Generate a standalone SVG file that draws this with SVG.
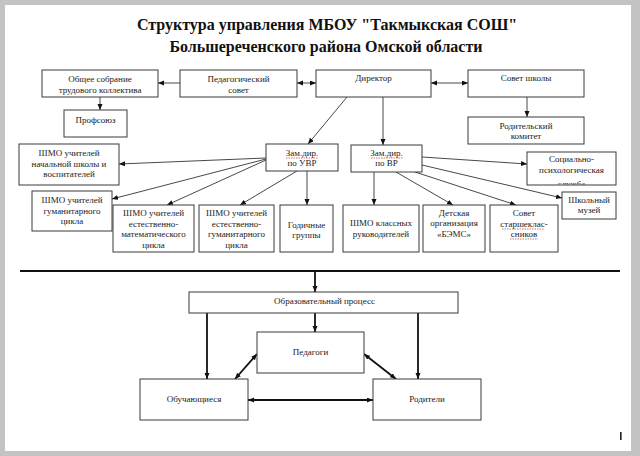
<svg xmlns="http://www.w3.org/2000/svg" width="640" height="456" viewBox="0 0 640 456">
<style>
.box{fill:#fff;stroke:#3a3a3a;stroke-width:1}
.t{font-family:"Liberation Serif","Times New Roman",serif;font-size:9px;fill:#222;text-anchor:middle}
.title{font-family:"Liberation Serif","Times New Roman",serif;font-size:16px;font-weight:bold;fill:#111;text-anchor:middle}
.c{stroke:#333;stroke-width:0.9;fill:none;marker-end:url(#ah)}
.d{marker-start:url(#ah)}
.b{stroke:#111;stroke-width:1.8;fill:none;marker-end:url(#ah)}
.sq{stroke:#c0392b;stroke-width:0.7;fill:none;stroke-dasharray:1.5 1}
</style>
<defs>
<marker id="ah" markerUnits="userSpaceOnUse" markerWidth="7" markerHeight="6" refX="6" refY="2.5" orient="auto-start-reverse" viewBox="0 0 7 6">
<path d="M0,0 L6,2.5 L0,5 z" fill="#111"/>
</marker>
<clipPath id="cp-soc"><rect x="527" y="152" width="89" height="32.5"/></clipPath>
</defs>
<rect x="0" y="0" width="640" height="456" fill="#c4c4c4"/>
<rect x="5" y="5" width="626" height="446" fill="#fff"/>
<g id="title">
<text class="title" x="327" y="30">Структура управления МБОУ "Такмыкская СОШ"</text>
<text class="title" x="326" y="52">Большереченского района Омской области</text>
</g>
<g id="connectors">
<line class="c" x1="180" y1="83" x2="158" y2="83"/>
<line class="c d" x1="297" y1="83" x2="316" y2="83"/>
<line class="c d" x1="431" y1="83" x2="468" y2="83"/>
<line class="c" x1="100" y1="97" x2="100" y2="110"/>
<line class="c" x1="527" y1="97" x2="527" y2="117"/>
<line class="c" x1="347" y1="97" x2="308" y2="144"/>
<line class="c" x1="383" y1="97" x2="383" y2="145"/>
<line class="c" x1="266" y1="158" x2="119" y2="164"/>
<line class="c" x1="266" y1="159" x2="112" y2="199"/>
<line class="c" x1="266" y1="160" x2="167" y2="205"/>
<line class="c" x1="297" y1="171" x2="240" y2="205"/>
<line class="c" x1="307" y1="171" x2="307" y2="205"/>
<line class="c" x1="374" y1="172" x2="374" y2="205"/>
<line class="c" x1="396" y1="172" x2="453" y2="205"/>
<line class="c" x1="415" y1="172" x2="516" y2="205"/>
<line class="c" x1="422" y1="165" x2="562" y2="198"/>
<line class="c" x1="422" y1="157" x2="527" y2="164"/>
<line x1="20" y1="271" x2="620" y2="271" stroke="#111" stroke-width="2"/>
<line class="b" x1="315" y1="272" x2="315" y2="292"/>
<line class="b" x1="207" y1="313" x2="207" y2="379"/>
<line class="b" x1="315" y1="313" x2="315" y2="332"/>
<line class="b" x1="418" y1="313" x2="418" y2="379"/>
<line class="b d" x1="257" y1="354" x2="235" y2="379"/>
<line class="b d" x1="364" y1="354" x2="396" y2="379"/>
<line class="b d" x1="248" y1="400" x2="373" y2="400"/>
</g>
<g id="obshchee"><rect class="box" x="42" y="70" width="116" height="27"/><text class="t" x="100" y="82">Общее собрание</text><text class="t" x="100" y="93">трудового коллектива</text></g>
<g id="pedsovet"><rect class="box" x="180" y="70" width="117" height="27"/><text class="t" x="238.5" y="82">Педагогический</text><text class="t" x="238.5" y="93">совет</text></g>
<g id="direktor"><rect class="box" x="316" y="70" width="115" height="27"/><text class="t" x="373.5" y="81">Директор</text></g>
<g id="sovet"><rect class="box" x="468" y="70" width="116" height="27"/><text class="t" x="526" y="81">Совет школы</text></g>
<g id="profsoyuz"><rect class="box" x="64" y="110" width="63" height="27"/><text class="t" x="95.5" y="123">Профсоюз</text></g>
<g id="rodkom"><rect class="box" x="468" y="117" width="116" height="27"/><text class="t" x="526" y="129">Родительский</text><text class="t" x="526" y="139">комитет</text></g>
<g id="zam-uvr"><rect class="box" x="266" y="144" width="72" height="27"/><text class="t" x="302" y="156">Зам.дир.</text><path class="sq" d="M286,158 L318,158"/><text class="t" x="302" y="166">по УВР</text></g>
<g id="zam-vr"><rect class="box" x="351" y="145" width="71" height="27"/><text class="t" x="386.5" y="156">Зам.дир.</text><path class="sq" d="M371,158 L403,158"/><text class="t" x="386.5" y="166">по ВР</text></g>
<g id="shmo-nach"><rect class="box" x="19" y="144" width="100" height="41"/><text class="t" x="69" y="156">ШМО учителей</text><text class="t" x="69" y="167">начальной школы и</text><text class="t" x="69" y="177">воспитателей</text></g>
<g id="shmo-gum"><rect class="box" x="32" y="191" width="80" height="40"/><text class="t" x="72" y="203">ШМО учителей</text><text class="t" x="72" y="214">гуманитарного</text><text class="t" x="72" y="224">цикла</text></g>
<g id="shmo-em"><rect class="box" x="113" y="205" width="81" height="47"/><text class="t" x="153.5" y="216">ШМО учителей</text><text class="t" x="153.5" y="227">естественно-</text><text class="t" x="153.5" y="237">математического</text><text class="t" x="153.5" y="248">цикла</text></g>
<g id="shmo-eg"><rect class="box" x="199" y="205" width="75" height="47"/><text class="t" x="236.5" y="216">ШМО учителей</text><text class="t" x="236.5" y="227">естественно-</text><text class="t" x="236.5" y="237">гуманитарного</text><text class="t" x="236.5" y="248">цикла</text></g>
<g id="godichnye"><rect class="box" x="280" y="205" width="53" height="47"/><text class="t" x="306.5" y="228">Годичные</text><text class="t" x="306.5" y="238">группы</text></g>
<g id="shmo-kl"><rect class="box" x="343" y="205" width="76" height="47"/><text class="t" x="381" y="226">ШМО классных</text><text class="t" x="381" y="237">руководителей</text></g>
<g id="detskaya"><rect class="box" x="423" y="205" width="62" height="47"/><text class="t" x="454" y="216">Детская</text><text class="t" x="454" y="226">организация</text><text class="t" x="454" y="237">«БЭМС»</text></g>
<g id="sovet-st"><rect class="box" x="490" y="205" width="68" height="47"/><text class="t" x="524" y="216">Совет</text><text class="t" x="524" y="227">старшеклас-</text><path class="sq" d="M502,229 L544,229"/><text class="t" x="524" y="237">сников</text><path class="sq" d="M510,239 L538,239"/></g>
<g id="soc"><rect class="box" x="527" y="152" width="89" height="33"/><g clip-path="url(#cp-soc)"><text class="t" x="571.5" y="162">Социально-</text><text class="t" x="571.5" y="173">психологическая</text><text class="t" x="571.5" y="186.5">служба</text></g></g>
<g id="muzey"><rect class="box" x="562" y="192" width="54" height="27"/><text class="t" x="589" y="203">Школьный</text><text class="t" x="589" y="213">музей</text></g>
<g id="obrazproc"><rect class="box" x="189" y="292" width="269" height="21"/><text class="t" x="324.5" y="304">Образовательный процесс</text></g>
<g id="pedagogi"><rect class="box" x="257" y="332" width="107" height="41"/><text class="t" x="310.5" y="355">Педагоги</text></g>
<g id="obuch"><rect class="box" x="140" y="379" width="108" height="41"/><text class="t" x="194" y="402">Обучающиеся</text></g>
<g id="roditeli"><rect class="box" x="373" y="379" width="108" height="41"/><text class="t" x="427" y="402">Родители</text></g>
<rect x="620" y="432" width="1.6" height="8" fill="#222"/>
</svg>
